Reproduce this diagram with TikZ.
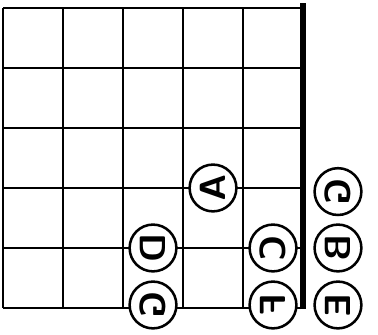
\documentclass[tikz,border=0pt]{standalone}
\usepackage{graphicx}
\usetikzlibrary{calc}

\tikzset{
  chordline/.style={line width=1.1pt},
  nutline/.style={line width=2.6pt},
  note/.style={circle, draw, line width=1.2pt, fill=white, minimum size=0.78cm,
    inner sep=0pt, font=\LARGE\sffamily\bfseries},
}
% letters are printed turned and mirrored
\newcommand{\turnletter}[1]{\rotatebox{90}{\reflectbox{#1}}}

\begin{document}
\begin{tikzpicture}[x=1cm, y=1cm]

	\def\nfret{5} \def\nstring{5}
	\def\openx{5.583} % column of the open strings

	\useasboundingbox (-0.05,-0.45) rectangle (6.25,5.133);

	% Draw strings
	\foreach \s in {0,...,\nstring}
		\draw[chordline] (0,\s) -- (\nfret,\s);

	% Draw frets
	\foreach \f in {0,...,4}
		\draw[chordline] (\f,0) -- (\f,\nstring);

	% Nut
	\draw[nutline] (\nfret,-0.02) -- (\nfret,5.08);

	% Fretted notes
	\foreach \name/\fx/\sy/\lbl in {fA/3.5/2/A, fD/2.5/1/D, fC/4.5/1/C, fG/2.5/0.05/G, fF/4.5/0.05/F}
		\node[note] (\name) at (\fx,\sy) {\turnletter{\lbl}};

	% Open strings
	\foreach \name/\sy/\lbl in {oG/1.94/G, oB/1/B, oE/0.05/E}
		\node[note] (\name) at (\openx,\sy) {\turnletter{\lbl}};

\end{tikzpicture}
\end{document}
